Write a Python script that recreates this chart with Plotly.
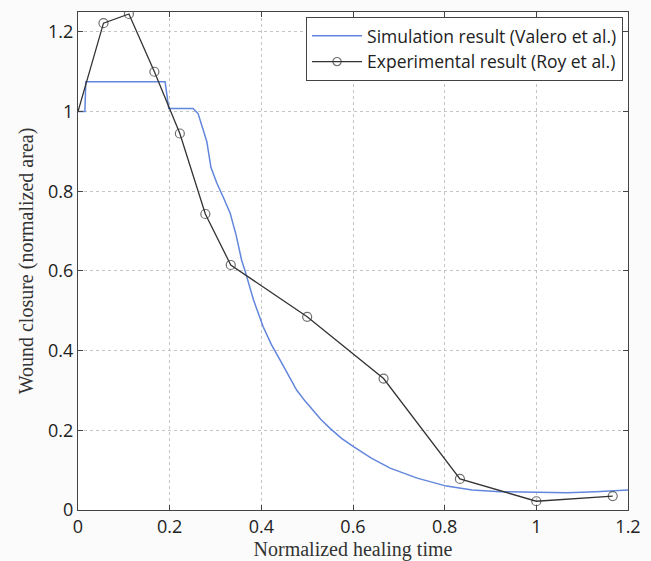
import plotly.graph_objects as go

# Simulation result (Valero et al.)
sim_x = [0.0, 0.015, 0.017, 0.10, 0.19, 0.198, 0.22, 0.251, 0.262, 0.273, 0.281, 0.29, 0.303, 0.317,
         0.332, 0.345, 0.357, 0.364, 0.383, 0.404, 0.422, 0.441, 0.46, 0.477, 0.495, 0.513, 0.53,
         0.55, 0.575, 0.601, 0.64, 0.681, 0.74, 0.804, 0.86, 0.921, 1.0, 1.066, 1.13, 1.2]
sim_y = [1.0, 1.0, 1.075, 1.075, 1.075, 1.008, 1.008, 1.008, 0.995, 0.954, 0.925, 0.86, 0.82, 0.785,
         0.745, 0.69, 0.627, 0.602, 0.527, 0.46, 0.415, 0.376, 0.336, 0.301, 0.274, 0.251, 0.227,
         0.205, 0.18, 0.159, 0.13, 0.105, 0.08, 0.06, 0.05, 0.046, 0.044, 0.043, 0.046, 0.05]

# Experimental result (Roy et al.)
exp_x = [0.0, 0.0556, 0.1111, 0.1667, 0.2222, 0.2778, 0.3333, 0.5, 0.6667, 0.8333, 1.0, 1.1667]
exp_y = [1.0, 1.222, 1.245, 1.10, 0.945, 0.743, 0.615, 0.485, 0.33, 0.078, 0.022, 0.035]
exp_marker_sizes = [0] + [9] * (len(exp_x) - 1)

x_ticks = [0, 0.2, 0.4, 0.6, 0.8, 1, 1.2]
x_tick_labels = ["0", "0.2", "0.4", "0.6", "0.8", "1", "1.2"]
y_ticks = [0, 0.2, 0.4, 0.6, 0.8, 1, 1.2]
y_tick_labels = ["0", "0.2", "0.4", "0.6", "0.8", "1", "1.2"]

fig = go.Figure()
fig.add_trace(go.Scatter(
    x=sim_x, y=sim_y, mode="lines", name="Simulation result (Valero et al.)",
    line=dict(color="#6286dc", width=1.5),
))
fig.add_trace(go.Scatter(
    x=exp_x, y=exp_y, mode="lines+markers", name="Experimental result (Roy et al.)",
    line=dict(color="#333333", width=1.3),
    marker=dict(symbol="circle-open", size=exp_marker_sizes, color="#333333", line=dict(width=1.2)),
))

axis_common = dict(
    showline=True, linecolor="#444444", linewidth=1.2, mirror="ticks",
    ticks="inside", ticklen=5, tickcolor="#444444",
    showgrid=True, gridcolor="#c4c4c4", griddash="dot", gridwidth=1,
    zeroline=False, automargin=False,
    tickfont=dict(family="Open Sans", size=18, color="#222222"),
)

fig.update_layout(
    width=651, height=561,
    margin=dict(l=78, r=23, t=12, b=51),
    paper_bgcolor="#fbfbfb", plot_bgcolor="white",
    showlegend=True,
    legend=dict(
        x=0.991, y=0.99, xanchor="right", yanchor="top",
        bgcolor="white", bordercolor="#444444", borderwidth=1,
        font=dict(family="Open Sans", size=17.5, color="#222222"),
        tracegroupgap=0, itemsizing="trace", itemwidth=50,
    ),
    xaxis=dict(
        range=[0, 1.2], tickvals=x_ticks, ticktext=x_tick_labels,
        title=dict(text="Normalized healing time", standoff=0,
                   font=dict(family="Liberation Serif", size=20, color="#333333")),
        **axis_common,
    ),
    yaxis=dict(
        range=[0, 1.25], tickvals=y_ticks, ticktext=y_tick_labels,
        title=dict(text="Wound closure (normalized area)", standoff=8,
                   font=dict(family="Liberation Serif", size=20, color="#333333")),
        **axis_common,
    ),
)

fig.write_html(
    "out.html",
    config={"displayModeBar": False},
    post_script="document.body.style.margin='0';document.body.style.background='#fbfbfb';",
)
